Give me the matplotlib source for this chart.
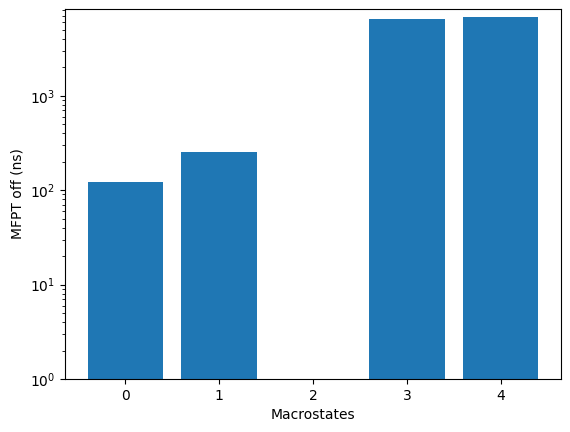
import matplotlib
matplotlib.use("Agg")
import matplotlib.pyplot as plt

states = [0, 1, 2, 3, 4]
mfpt_off = [122, 253, 0, 6550, 6890]

fig, ax = plt.subplots(figsize=(5.7, 4.32), dpi=100)
ax.bar(states, mfpt_off, color="#1f77b4")
ax.set_yscale("log")
ax.set_ylim(1, 8300)
ax.set_xlim(-0.64, 4.64)
ax.set_xticks(states)
ax.set_xlabel("Macrostates")
ax.set_ylabel("MFPT off (ns)")
fig.subplots_adjust(left=0.1140, right=0.9842, bottom=0.1227, top=0.9792)
fig.savefig("out.png", dpi=100)
